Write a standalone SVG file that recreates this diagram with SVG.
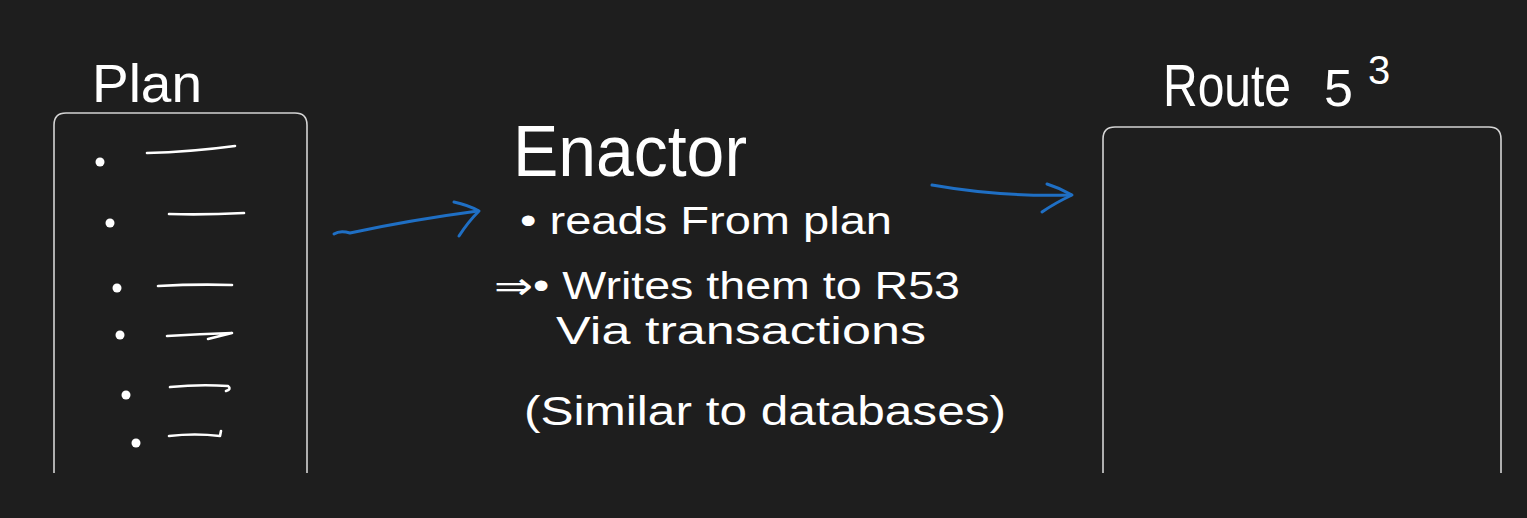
<svg xmlns="http://www.w3.org/2000/svg" width="1527" height="518" viewBox="0 0 1527 518">
  <defs>
    <style>
      .bg { fill: #1e1e1e; }
      .box { fill: none; stroke: #d4d4d4; stroke-width: 1.6; }
      .ink { fill: none; stroke: #ffffff; stroke-width: 2.6; stroke-linecap: round; stroke-linejoin: round; }
      .dot { fill: #ffffff; }
      .txt { fill: #ffffff; font-family: "Liberation Sans", "DejaVu Sans", sans-serif; }
      .conn { fill: none; stroke: #1f6fc4; stroke-width: 3; stroke-linecap: round; stroke-linejoin: round; }
    </style>
  </defs>
  <rect class="bg" x="0" y="0" width="1527" height="518"/>

  <g id="plan">
    <text class="txt" x="92" y="102" font-size="54" textLength="110" lengthAdjust="spacingAndGlyphs">Plan</text>
    <path class="box" d="M54,473 V125 Q54,113 66,113 H295 Q307,113 307,125 V473"/>
    <circle class="dot" cx="100" cy="162" r="4.5"/>
    <path class="ink" d="M147,153 Q190,152 235,146"/>
    <circle class="dot" cx="110" cy="223" r="4.5"/>
    <path class="ink" d="M169,214 Q205,215 244,213"/>
    <circle class="dot" cx="117" cy="288" r="4.5"/>
    <path class="ink" d="M158,286 Q195,284 232,285"/>
    <circle class="dot" cx="120" cy="335" r="4.5"/>
    <path class="ink" d="M167,336 Q200,334 232,333 L208,339"/>
    <circle class="dot" cx="126" cy="395" r="4.5"/>
    <path class="ink" d="M170,387 Q200,384 228,386 Q232,389 226,391"/>
    <circle class="dot" cx="136" cy="443" r="4.5"/>
    <path class="ink" d="M169,436 Q195,433 220,436 L221,431"/>
  </g>

  <g id="enactor">
    <text class="txt" x="513" y="176" font-size="72" textLength="234" lengthAdjust="spacingAndGlyphs">Enactor</text>
    <text class="txt" x="520" y="234" font-size="38" textLength="372" lengthAdjust="spacingAndGlyphs">• reads   From plan</text>
    <text class="txt" x="494" y="299" font-size="38" textLength="466" lengthAdjust="spacingAndGlyphs">⇒• Writes them to R53</text>
    <text class="txt" x="556" y="344" font-size="38" textLength="370" lengthAdjust="spacingAndGlyphs">Via  transactions</text>
    <text class="txt" x="524" y="425" font-size="40" textLength="482" lengthAdjust="spacingAndGlyphs">(Similar to databases)</text>
  </g>

  <g id="route53">
    <text class="txt" x="1163" y="106" font-size="60"><tspan textLength="128" lengthAdjust="spacingAndGlyphs">Route</tspan><tspan x="1324" font-size="52">5</tspan><tspan x="1368" y="84" font-size="40">3</tspan></text>
    <path class="box" d="M1103,473 V139 Q1103,127 1115,127 H1489 Q1501,127 1501,139 V473"/>
  </g>

  <g id="connectors">
    <path class="conn" d="M334,234 Q340,230 350,233 Q410,220 478,211"/>
    <path class="conn" d="M454,202 Q468,205 479,211 Q468,222 459,236"/>
    <path class="conn" d="M932,185 Q1000,197 1071,195"/>
    <path class="conn" d="M1047,184 Q1060,188 1072,195 Q1055,203 1042,212"/>
  </g>
</svg>
